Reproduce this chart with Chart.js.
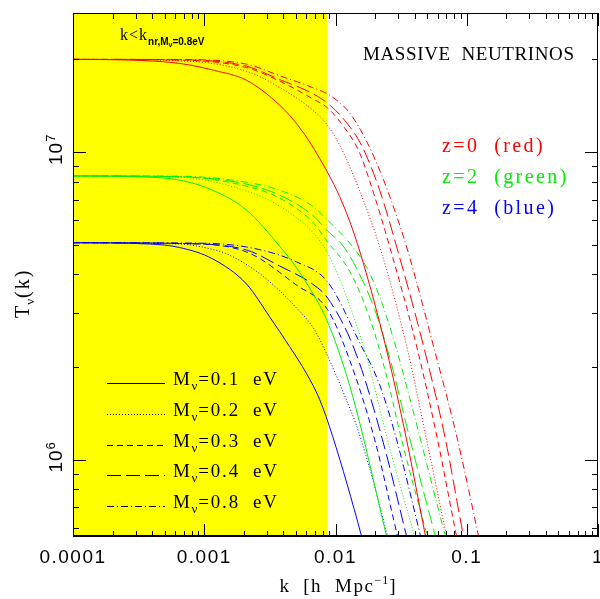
<!DOCTYPE html>
<html><head><meta charset="utf-8">
<script src="https://cdn.jsdelivr.net/npm/chart.js@4/dist/chart.umd.min.js"></script>
<style>body{margin:0;background:#fff}canvas{display:block}</style>
</head><body>
<canvas id="c" width="600" height="599"></canvas>
<script>
// ---- axis ranges and labels ----
const kMin = 1e-4, kMax = 1;
const tMin = 5.6e5, tMax = 2.83e7;
const kNonRel = 0.00866;               // k_nr for M_nu = 0.8 eV (yellow region edge)
const xTickLabels = ['0.0001', '0.001', '0.01', '0.1', '1'];
const yTickExponents = [6, 7];
const massLabels = ['0.1', '0.2', '0.3', '0.4', '0.8'];
const redshifts = ['0', '2', '4'];
const colourNames = ['red', 'green', 'blue'];

// ---- series: [k (h/Mpc), T_nu(k)] ----
// z = 0 (red)
const red01 = [[1e-4,2.00e7],[2.70e-4,1.99e7],[6.50e-4,1.94e7],[1.20e-3,1.84e7],[2.10e-3,1.71e7],[3.75e-3,1.42e7],[5.33e-3,1.20e7],[7.56e-3,9.54e6],[1.13e-2,6.82e6],[1.52e-2,4.80e6],[2.45e-2,2.27e6],[3.48e-2,1.16e6],[4.85e-2,5.63e5],[6.20e-2,3.34e5]];
const red02 = [[1e-4,2.00e7],[6.50e-4,1.98e7],[2.10e-3,1.83e7],[3.75e-3,1.62e7],[6.68e-3,1.37e7],[8.71e-3,1.22e7],[1.13e-2,1.01e7],[1.52e-2,7.51e6],[2.21e-2,4.80e6],[3.54e-2,2.27e6],[4.94e-2,1.16e6],[7.01e-2,5.63e5],[8.81e-2,3.52e5]];
const red03 = [[1e-4,2.00e7],[6.50e-4,1.99e7],[2.10e-3,1.88e7],[3.75e-3,1.70e7],[6.68e-3,1.49e7],[8.71e-3,1.39e7],[1.17e-2,1.20e7],[1.52e-2,9.98e6],[1.95e-2,7.35e6],[2.63e-2,4.80e6],[4.22e-2,2.27e6],[5.99e-2,1.16e6],[8.36e-2,5.63e5],[0.105,3.52e5]];
const red04 = [[1e-4,2.00e7],[6.50e-4,1.995e7],[2.10e-3,1.90e7],[3.75e-3,1.72e7],[6.68e-3,1.55e7],[8.71e-3,1.44e7],[1.17e-2,1.27e7],[1.58e-2,1.05e7],[2.17e-2,7.51e6],[2.97e-2,4.80e6],[4.77e-2,2.27e6],[6.89e-2,1.16e6],[9.44e-2,5.63e5],[0.119,3.52e5]];
const red08 = [[1e-4,2.00e7],[6.50e-4,1.997e7],[2.10e-3,1.93e7],[3.75e-3,1.77e7],[6.68e-3,1.62e7],[9.02e-3,1.53e7],[1.28e-2,1.34e7],[1.75e-2,1.07e7],[2.25e-2,8.40e6],[2.82e-2,6.47e6],[3.54e-2,4.80e6],[5.68e-2,2.27e6],[8.51e-2,1.16e6],[0.123,5.63e5],[0.155,3.52e5]];
// z = 2 (green)
const green01 = [[1e-4,8.36e6],[3.84e-4,8.28e6],[6.50e-4,8.10e6],[1.16e-3,7.51e6],[2.10e-3,6.47e6],[3.75e-3,4.94e6],[5.05e-3,4.20e6],[6.68e-3,3.48e6],[8.55e-3,2.85e6],[1.21e-2,1.89e6],[1.52e-2,1.33e6],[2.45e-2,5.63e5],[3.08e-2,3.79e5]];
const green02 = [[1e-4,8.36e6],[6.50e-4,8.28e6],[2.10e-3,7.46e6],[3.75e-3,6.67e6],[6.68e-3,5.49e6],[8.71e-3,4.69e6],[1.24e-2,3.30e6],[1.75e-2,2.11e6],[2.49e-2,1.16e6],[4.00e-2,5.63e5],[5.21e-2,3.76e5]];
const green03 = [[1e-4,8.36e6],[6.50e-4,8.31e6],[2.10e-3,7.74e6],[3.75e-3,7.08e6],[6.68e-3,5.92e6],[8.71e-3,5.10e6],[1.28e-2,4.10e6],[1.82e-2,2.89e6],[2.49e-2,1.82e6],[3.19e-2,1.16e6],[5.02e-2,5.63e5],[6.54e-2,3.79e5]];
const green04 = [[1e-4,8.36e6],[6.50e-4,8.31e6],[2.10e-3,7.86e6],[3.75e-3,7.24e6],[6.68e-3,6.23e6],[8.71e-3,5.53e6],[1.13e-2,4.98e6],[1.47e-2,4.13e6],[1.99e-2,3.07e6],[2.68e-2,2.03e6],[3.54e-2,1.25e6],[5.78e-2,5.63e5],[7.52e-2,3.79e5]];
const green08 = [[1e-4,8.36e6],[6.50e-4,8.34e6],[2.10e-3,7.97e6],[3.75e-3,7.51e6],[6.68e-3,6.67e6],[8.71e-3,6.00e6],[1.28e-2,5.06e6],[1.72e-2,4.23e6],[2.17e-2,3.38e6],[2.82e-2,2.40e6],[3.67e-2,1.59e6],[4.45e-2,1.16e6],[6.89e-2,5.63e5],[8.97e-2,3.79e5]];
// z = 4 (blue)
const blue01 = [[1e-4,5.07e6],[3.84e-4,5.02e6],[6.50e-4,4.89e6],[1.16e-3,4.49e6],[2.10e-3,3.72e6],[3.15e-3,2.91e6],[4.47e-3,2.33e6],[6.03e-3,1.90e6],[7.56e-3,1.57e6],[9.51e-3,1.19e6],[1.58e-2,5.63e5],[1.99e-2,3.79e5]];
const blue02 = [[1e-4,5.07e6],[6.50e-4,5.02e6],[1.16e-3,4.82e6],[1.56e-3,4.62e6],[2.79e-3,3.95e6],[5.05e-3,3.11e6],[6.93e-3,2.64e6],[8.71e-3,2.17e6],[1.17e-2,1.62e6],[1.52e-2,1.21e6],[2.49e-2,5.63e5],[3.08e-2,3.79e5]];
const blue03 = [[1e-4,5.07e6],[6.50e-4,5.04e6],[2.10e-3,4.73e6],[5.05e-3,3.69e6],[8.71e-3,3.07e6],[1.28e-2,2.11e6],[1.99e-2,1.16e6],[2.97e-2,5.63e5],[3.73e-2,3.79e5]];
const blue04 = [[1e-4,5.07e6],[6.50e-4,5.04e6],[2.10e-3,4.80e6],[3.75e-3,4.26e6],[6.68e-3,3.72e6],[8.71e-3,3.35e6],[1.40e-2,2.27e6],[2.28e-2,1.16e6],[3.48e-2,5.63e5],[4.37e-2,3.79e5]];
const blue08 = [[1e-4,5.07e6],[6.50e-4,5.06e6],[2.10e-3,4.91e6],[5.05e-3,4.39e6],[8.71e-3,3.78e6],[1.52e-2,2.41e6],[2.17e-2,1.75e6],[2.92e-2,1.16e6],[4.45e-2,5.63e5],[5.58e-2,3.79e5]];

// ---- styling (kept separate from data) ----
const colours = ['#ff0000', '#00ee00', '#0000ff'];
const dashes = [[], [1, 2], [6, 4], [14, 5], [7, 3, 1, 3]];
const SERIF = '"Liberation Serif","Times New Roman",serif';
const SANS = '"Liberation Sans",Arial,sans-serif';

const groups = [
  [red01, red02, red03, red04, red08],
  [green01, green02, green03, green04, green08],
  [blue01, blue02, blue03, blue04, blue08]
];

const datasets = [];
groups.forEach((curves, zi) => {
  curves.forEach((arr, mi) => {
    datasets.push({
      label: 'z=' + redshifts[zi] + ' Mnu=' + massLabels[mi],
      data: arr.map(p => ({ x: p[0], y: p[1] })),
      borderColor: colours[zi],
      borderWidth: 1,
      borderDash: dashes[mi],
      pointRadius: 0,
      fill: false,
      cubicInterpolationMode: 'monotone'
    });
  });
});

function rich(ctx, parts, x, y) {
  let cx = x;
  for (const p of parts) {
    ctx.font = p[1];
    ctx.letterSpacing = (p[3] || 0) + 'px';
    ctx.fillText(p[0], cx, y + (p[2] || 0));
    cx += ctx.measureText(p[0]).width;
  }
  ctx.letterSpacing = '0px';
  return cx - x;
}

// draw text stretched (via letter spacing) to a target width
function fitText(ctx, text, font, x, y, width) {
  ctx.font = font;
  ctx.letterSpacing = '0px';
  const w = ctx.measureText(text).width;
  const sp = (width - w) / Math.max(1, text.length - 1);
  ctx.letterSpacing = sp + 'px';
  ctx.fillText(text, x, y);
  ctx.letterSpacing = '0px';
}

function logTicks(min, max) {
  const out = [];
  for (let e = Math.floor(Math.log10(min)); e <= Math.ceil(Math.log10(max)); e++) {
    for (let m = 1; m <= 9; m++) {
      const v = m * Math.pow(10, e);
      if (v >= min * 0.9999 && v <= max * 1.0001) out.push({ v, major: m === 1 });
    }
  }
  return out;
}

const framePlugin = {
  id: 'frame',
  beforeDatasetsDraw(chart) {
    const { ctx, chartArea: a, scales: { x } } = chart;
    ctx.save();
    ctx.fillStyle = '#ffff00';
    const xr = x.getPixelForValue(kNonRel);
    ctx.fillRect(a.left, a.top, xr - a.left, a.bottom - a.top);
    ctx.restore();
  },
  afterDatasetsDraw(chart) {
    const { ctx, chartArea: a, scales: { x, y } } = chart;
    ctx.save();
    ctx.strokeStyle = '#000';
    ctx.fillStyle = '#000';
    ctx.lineWidth = 1;
    // frame
    ctx.strokeRect(a.left + 0.5, a.top + 0.5, a.right - a.left - 1, a.bottom - a.top - 1);
    ctx.lineWidth = 2;
    ctx.beginPath(); ctx.moveTo(a.left, a.bottom - 1); ctx.lineTo(a.right, a.bottom - 1); ctx.stroke();
    ctx.lineWidth = 1;
    // x ticks
    ctx.beginPath();
    for (const t of logTicks(kMin, kMax)) {
      const px = Math.round(x.getPixelForValue(t.v)) + 0.5;
      const len = t.major ? 13 : 6;
      ctx.moveTo(px, a.bottom); ctx.lineTo(px, a.bottom - len);
      ctx.moveTo(px, a.top); ctx.lineTo(px, a.top + len);
    }
    // y ticks
    for (const t of logTicks(tMin, tMax)) {
      const py = Math.round(y.getPixelForValue(t.v)) + 0.5;
      const len = t.major ? 13 : 6;
      ctx.moveTo(a.left, py); ctx.lineTo(a.left + len, py);
      ctx.moveTo(a.right, py); ctx.lineTo(a.right - len, py);
    }
    ctx.stroke();

    // x tick labels
    ctx.textBaseline = 'alphabetic';
    ctx.font = '19px ' + SANS;
    ctx.letterSpacing = '1.5px';
    ctx.textAlign = 'center';
    xTickLabels.forEach((lab, i) => {
      const px = x.getPixelForValue(Math.pow(10, -4 + i));
      ctx.fillText(lab, px, 563);
    });
    ctx.letterSpacing = '0px';
    ctx.textAlign = 'left';

    // y tick labels (rotated 10^n)
    yTickExponents.forEach(e => {
      const py = y.getPixelForValue(Math.pow(10, e));
      ctx.save();
      ctx.translate(62, py);
      ctx.rotate(-Math.PI / 2);
      rich(ctx, [['10', '19px ' + SANS, 0, 1], [String(e), '13px ' + SANS, -7]], -13, 0);
      ctx.restore();
    });

    // axis titles
    const cx = (a.left + a.right) / 2;
    const partsX = [['k  [h  Mpc', '19px ' + SERIF, 0, 1.6], ['−1', '12px ' + SERIF, -8, 1], [']', '19px ' + SERIF, 0, 0]];
    let w = 0;
    for (const p of partsX) { ctx.font = p[1]; ctx.letterSpacing = (p[3] || 0) + 'px'; w += ctx.measureText(p[0]).width; }
    ctx.letterSpacing = '0px';
    rich(ctx, partsX, cx - w / 2 + 2, 592);

    ctx.save();
    ctx.translate(29, 318);
    ctx.rotate(-Math.PI / 2);
    rich(ctx, [['T', '20px ' + SERIF, 0, 1], ['ν', '13px ' + SERIF, 5, 1], ['(k)', '20px ' + SERIF, 0, 2]], 0, 0);
    ctx.restore();

    // annotations
    fitText(ctx, 'MASSIVE  NEUTRINOS', '19px ' + SERIF, 363, 60, 211);
    const zBase = [152, 183, 214];
    redshifts.forEach((z, i) => {
      ctx.fillStyle = colours[i];
      rich(ctx, [['z=' + z + '  (' + colourNames[i] + ')', '20px ' + SERIF, 0, 2.4]], 442, zBase[i]);
    });
    ctx.fillStyle = '#000';
    rich(ctx, [['k<k', '16px ' + SERIF, 0, 1], ['nr,M', 'bold 10px ' + SANS, 5], ['ν', 'bold 7px ' + SANS, 7], ['=0.8eV', 'bold 10px ' + SANS, 5]], 120, 40);

    // legend (line styles)
    const rows = [383, 414, 445, 475, 506];
    massLabels.forEach((m, i) => {
      ctx.setLineDash(dashes[i]);
      ctx.lineWidth = 1;
      ctx.beginPath();
      ctx.moveTo(107, rows[i] + 0.5); ctx.lineTo(165, rows[i] + 0.5);
      ctx.stroke();
      ctx.setLineDash([]);
      rich(ctx, [['M', '19px ' + SERIF, 0, 1.5], ['ν', '13px ' + SERIF, 5, 1], ['=' + m + '  eV', '19px ' + SERIF, 0, 1.8]], 173, rows[i] + 2);
    });
    ctx.restore();
  }
};

new Chart(document.getElementById('c'), {
  type: 'line',
  data: { datasets },
  options: {
    responsive: false,
    animation: false,
    events: [],
    layout: { padding: { left: 73, top: 13, right: 2, bottom: 62 } },
    scales: {
      x: { type: 'logarithmic', min: kMin, max: kMax, display: false },
      y: { type: 'logarithmic', min: tMin, max: tMax, display: false }
    },
    plugins: { legend: { display: false }, tooltip: { enabled: false } }
  },
  plugins: [framePlugin]
});
</script>
</body></html>
